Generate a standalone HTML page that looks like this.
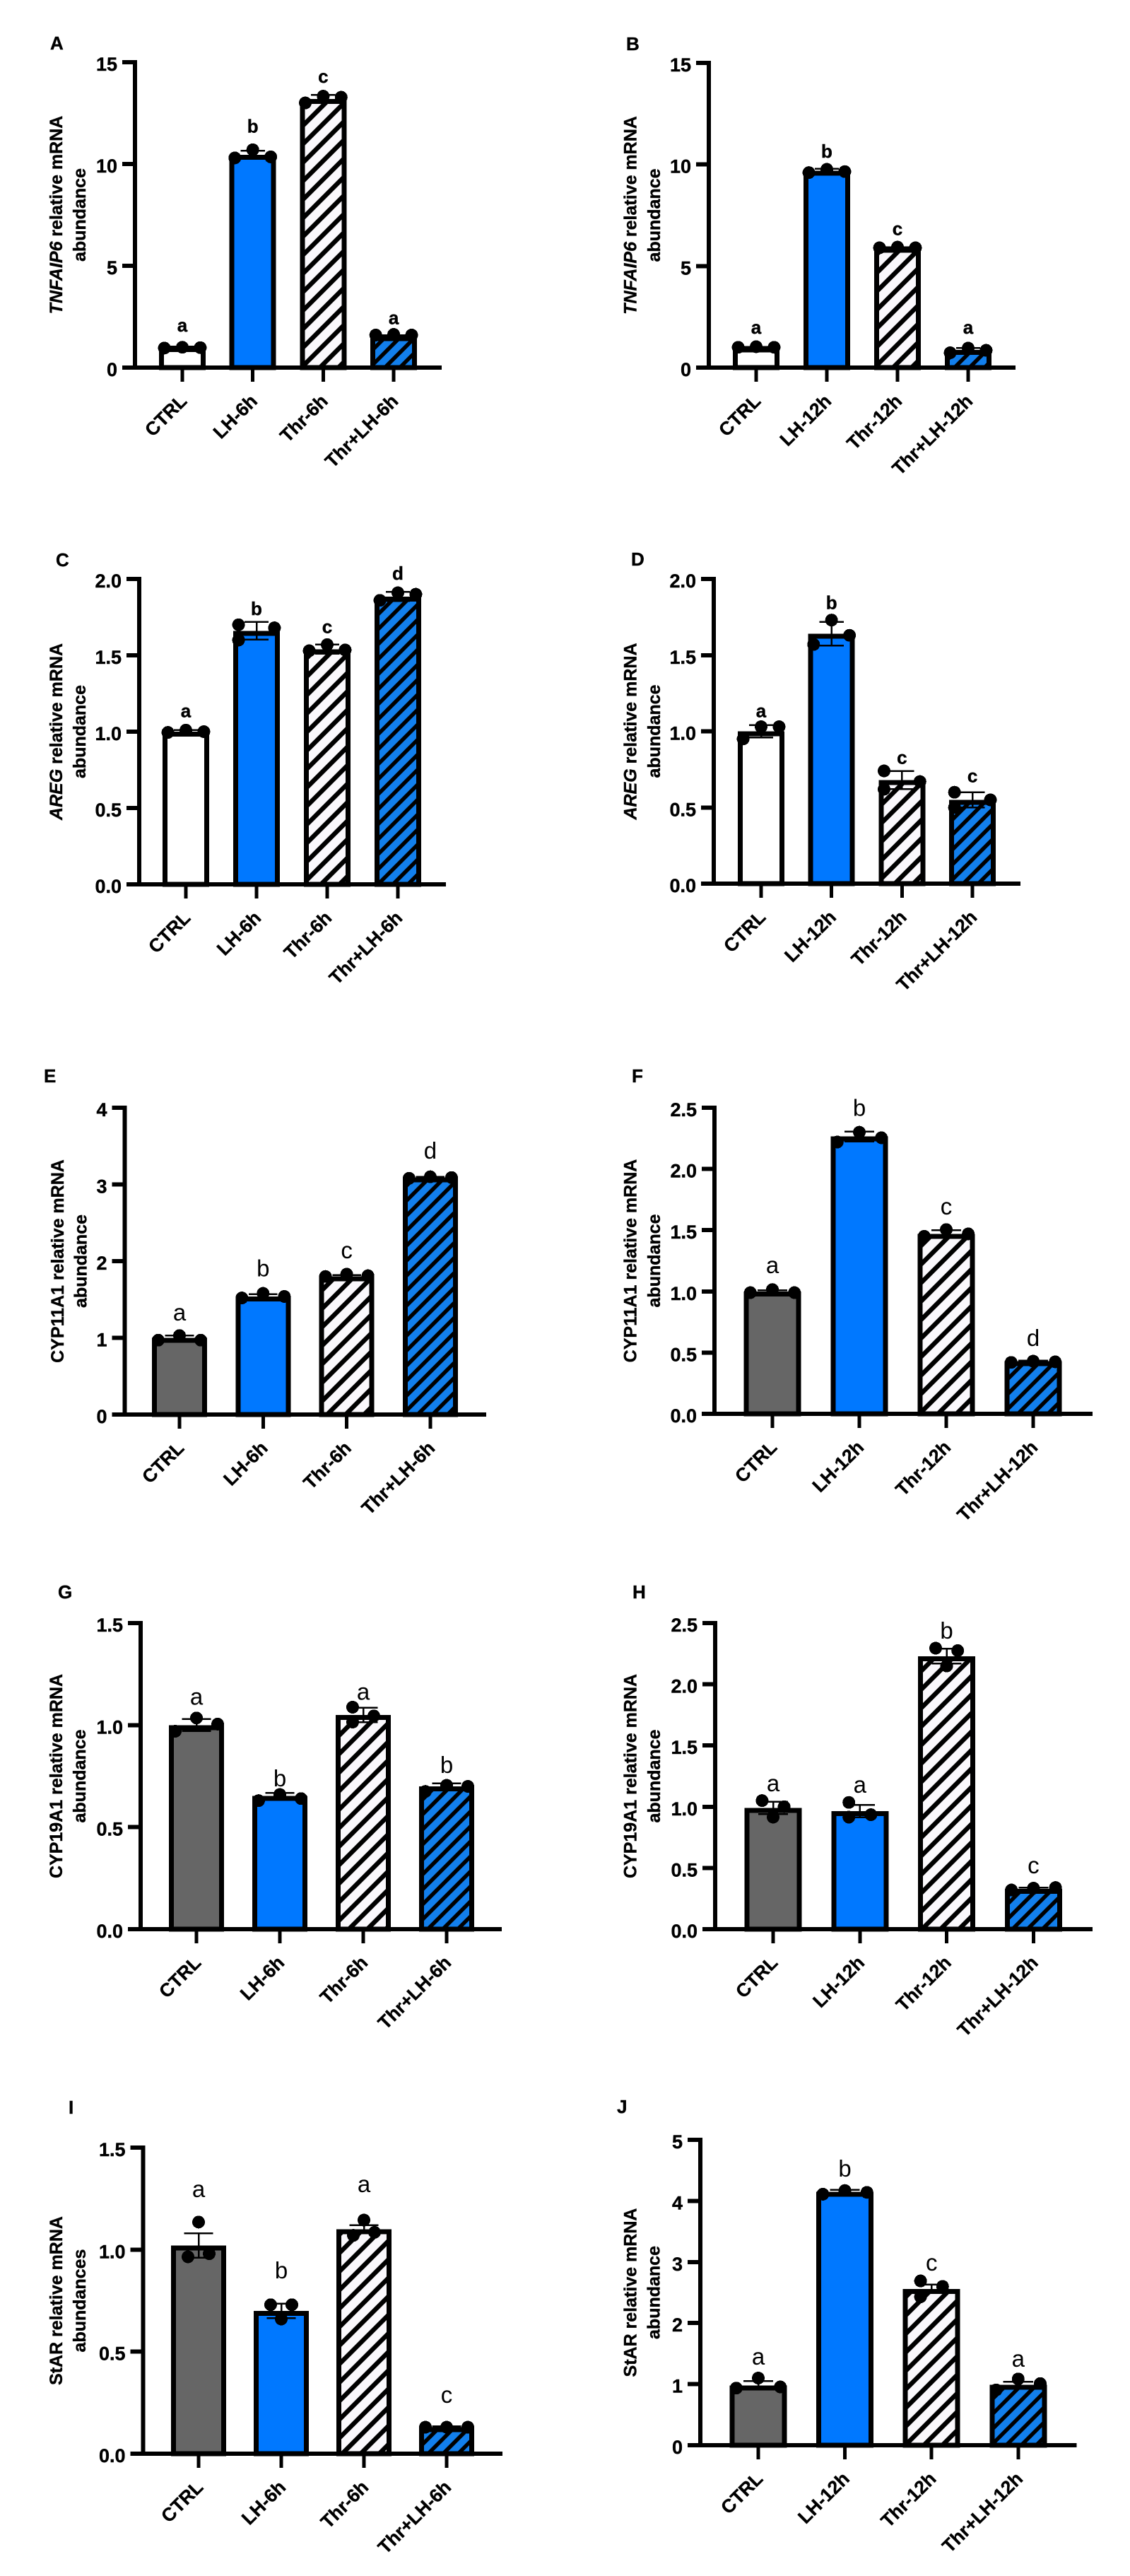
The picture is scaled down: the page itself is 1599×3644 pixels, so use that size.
<!DOCTYPE html>
<html lang="en">
<head>
<meta charset="utf-8">
<title>Relative mRNA abundance panels</title>
<style>
html,body{margin:0;padding:0;background:#fff;}
body{width:1599px;height:3644px;overflow:hidden;}
svg{display:block;}
text{font-family:"Liberation Sans",Arial,sans-serif;fill:#000;}
text.heavy{stroke:#000;stroke-width:0.4px;}
</style>
</head>
<body>
<svg id="figure" xmlns="http://www.w3.org/2000/svg" width="1599" height="3644" viewBox="0 0 1599 3644">
  <defs>
    <pattern id="hatch-white" patternUnits="userSpaceOnUse" width="18.5" height="18.5" patternTransform="rotate(45)">
      <rect width="18.5" height="18.5" fill="#faf8fc"></rect>
      <rect x="0" y="0" width="6.5" height="18.5" fill="#000"></rect>
    </pattern>
    <pattern id="hatch-blue" patternUnits="userSpaceOnUse" width="15" height="15" patternTransform="rotate(45)">
      <rect width="15" height="15" fill="#127fec"></rect>
      <rect x="0" y="0" width="5.5" height="15" fill="#000"></rect>
    </pattern>
  </defs>
</svg>
<script>
const categories6 = ['CTRL', 'LH-6h', 'Thr-6h', 'Thr+LH-6h'];
const categories12 = ['CTRL', 'LH-12h', 'Thr-12h', 'Thr+LH-12h'];

const ticksA = ['0', '5', '10', '15'];
const meansA = [1.0, 10.45, 13.2, 1.55];
const errsA = [0.03, 0.2, 0.2, 0.03];
const pointsA = [[0.96, 1.0, 0.98], [10.3, 10.7, 10.35], [13.0, 13.33, 13.28], [1.6, 1.63, 1.6]];
const slotsA = [[-1, 0, 1], [-1, 0, 1], [-1, 0, 1], [-1, 0, 1]];
const sigA = ['a', 'b', 'c', 'a'];
const sigLevelA = [1.77, 11.55, 14.0, 2.14];

const ticksB = ['0', '5', '10', '15'];
const meansB = [1.0, 9.7, 5.9, 0.87];
const errsB = [0.02, 0.08, 0.03, 0.1];
const pointsB = [[1.0, 1.03, 1.0], [9.6, 9.76, 9.65], [5.9, 5.93, 5.9], [0.73, 0.96, 0.85]];
const slotsB = [[-1, 0, 1], [-1, 0, 1], [-1, 0, 1], [-1, 0, 1]];
const sigB = ['a', 'b', 'c', 'a'];
const sigLevelB = [1.67, 10.34, 6.53, 1.67];

const ticksC = ['0.0', '0.5', '1.0', '1.5', '2.0'];
const meansC = [1.0, 1.66, 1.54, 1.885];
const errsC = [0.01, 0.058, 0.03, 0.03];
const pointsC = [[0.995, 1.01, 1.0], [1.7, 1.6, 1.68], [1.53, 1.57, 1.535], [1.86, 1.91, 1.9]];
const slotsC = [[-1, 0, 1], [-1, -1, 1], [-1, 0, 1], [-1, 0, 1]];
const sigC = ['a', 'b', 'c', 'd'];
const sigLevelC = [1.094, 1.764, 1.646, 1.995];

const ticksD = ['0.0', '0.5', '1.0', '1.5', '2.0'];
const meansD = [1.0, 1.64, 0.68, 0.55];
const errsD = [0.04, 0.077, 0.06, 0.05];
const pointsD = [[0.95, 1.03, 1.03], [1.57, 1.73, 1.63], [0.74, 0.62, 0.67], [0.6, 0.5, 0.55]];
const slotsD = [[-1, 0, 1], [-1, 0, 1], [-1, -1, 1], [-1, -1, 1]];
const sigD = ['a', 'b', 'c', 'c'];
const sigLevelD = [1.092, 1.803, 0.786, 0.665];

const ticksE = ['0', '1', '2', '3', '4'];
const meansE = [1.0, 1.54, 1.8, 3.09];
const errsE = [0.03, 0.03, 0.02, 0.01];
const pointsE = [[0.97, 1.03, 0.97], [1.52, 1.58, 1.54], [1.8, 1.83, 1.81], [3.08, 3.1, 3.09]];
const slotsE = [[-1, 0, 1], [-1, 0, 1], [-1, 0, 1], [-1, 0, 1]];
const sigE = ['a', 'b', 'c', 'd'];
const sigLevelE = [1.226, 1.8, 2.037, 3.338];

const ticksF = ['0.0', '0.5', '1.0', '1.5', '2.0', '2.5'];
const meansF = [1.0, 2.265, 1.47, 0.43];
const errsF = [0.01, 0.04, 0.03, 0.005];
const pointsF = [[0.99, 1.015, 0.99], [2.22, 2.3, 2.255], [1.45, 1.505, 1.47], [0.42, 0.43, 0.425]];
const slotsF = [[-1, 0, 1], [-1, 0, 1], [-1, 0, 1], [-1, 0, 1]];
const sigF = ['a', 'b', 'c', 'd'];
const sigLevelF = [1.149, 2.434, 1.628, 0.554];

const ticksG = ['0.0', '0.5', '1.0', '1.5'];
const meansG = [1.0, 0.653, 1.05, 0.7];
const errsG = [0.03, 0.015, 0.035, 0.015];
const pointsG = [[0.97, 1.035, 1.005], [0.63, 0.66, 0.64], [1.088, 1.015, 1.045], [0.675, 0.705, 0.7]];
const slotsG = [[-1, 0, 1], [-1, 0, 1], [-0.5, -0.5, 0.5], [-1, 0, 1]];
const sigG = ['a', 'b', 'a', 'b'];
const sigLevelG = [1.1, 0.7, 1.124, 0.765];

const ticksH = ['0.0', '0.5', '1.0', '1.5', '2.0', '2.5'];
const meansH = [0.99, 0.965, 2.23, 0.33];
const errsH = [0.05, 0.05, 0.06, 0.01];
const pointsH = [[1.05, 0.915, 1.0], [1.035, 0.915, 0.935], [2.295, 2.15, 2.275], [0.32, 0.335, 0.34]];
const slotsH = [[-0.5, 0, 0.5], [-0.5, -0.5, 0.5], [-0.5, 0, 0.5], [-1, 0, 1]];
const sigH = ['a', 'a', 'b', 'c'];
const sigLevelH = [1.126, 1.114, 2.373, 0.456];

const ticksI = ['0.0', '0.5', '1.0', '1.5'];
const meansI = [1.02, 0.7, 1.1, 0.13];
const errsI = [0.06, 0.035, 0.02, 0.005];
const pointsI = [[1.135, 0.965, 0.98], [0.73, 0.66, 0.73], [1.07, 1.145, 1.085], [0.13, 0.13, 0.13]];
const slotsI = [[0, -0.5, 0.5], [-0.5, 0, 0.5], [-0.5, 0, 0.5], [-1, 0, 1]];
const sigI = ['a', 'b', 'a', 'c'];
const sigLevelI = [1.257, 0.859, 1.282, 0.249];

const ticksJ = ['0', '1', '2', '3', '4', '5'];
const meansJ = [0.98, 4.15, 2.56, 0.99];
const errsJ = [0.07, 0.03, 0.07, 0.05];
const pointsJ = [[0.935, 1.1, 0.955], [4.11, 4.17, 4.14], [2.69, 2.43, 2.6], [0.905, 1.085, 1.01]];
const slotsJ = [[-1, 0, 1], [-1, 0, 1], [-0.5, -0.5, 0.5], [-1, 0, 1]];
const sigJ = ['a', 'b', 'c', 'a'];
const sigLevelJ = [1.319, 4.398, 2.859, 1.285];

const SVG_NS = 'http://www.w3.org/2000/svg';
const figure = document.getElementById('figure');
const BLUE = '#0078ff';
const GRAY = '#666666';

function make(parent, tag, props) {
  const el = document.createElementNS(SVG_NS, tag);
  for (const key in props) el.setAttribute(key, props[key]);
  parent.appendChild(el);
  return el;
}

function drawPanel(p) {
  const group = make(figure, 'g', {});
  
  

  const yMax = parseFloat(p.ticks[p.ticks.length - 1]);
  const yScale = function (v) { return p.y0 - (v / yMax) * (p.y0 - p.yTop); };
  const xScale = function (i) { return p.x0 + i * p.dx; };

  const letter = make(group, 'text', { class: 'heavy', x: p.letterX, y: p.letterY, 'font-size': 26, 'font-weight': 'bold' });
  letter.textContent = p.id;
  
  

  const yAxis = make(group, 'rect', { x: p.axisX - 3, y: p.yTop - 3, width: 6, height: p.y0 - p.yTop + 6, fill: '#000', 'shape-rendering': 'crispEdges' });
  
  

  const xAxis = make(group, 'rect', { x: p.axisX - 18, y: p.y0 - 3, width: p.xEnd - p.axisX + 18, height: 6, fill: '#000', 'shape-rendering': 'crispEdges' });
  
  

  p.ticks.forEach(function (label) {
    const v = parseFloat(label);
    const tick = make(group, 'rect', { x: p.axisX - 18, y: yScale(v) - 3, width: 18, height: 6, fill: '#000', 'shape-rendering': 'crispEdges' });
    
    
    const text = make(group, 'text', { class: 'heavy', x: p.axisX - 25, y: yScale(v) + 12, 'font-size': 27, 'font-weight': 'bold', 'text-anchor': 'end' });
    text.textContent = label;
    
    
  });

  const midY = (p.y0 + p.yTop) / 2;
  const title1 = make(group, 'text', { class: 'heavy', transform: 'translate(' + p.title1X + ' ' + midY + ') rotate(-90)', 'font-size': 25, 'font-weight': 'bold', 'text-anchor': 'middle' });
  if (p.geneItalic) {
    const gene = make(title1, 'tspan', { 'font-style': 'italic' });
    gene.textContent = p.gene;
    
    
  } else {
    const gene = make(title1, 'tspan', {});
    gene.textContent = p.gene;
    
    
  }
  const rest = make(title1, 'tspan', {});
  rest.textContent = ' relative mRNA';
  
  
  
  

  const title2 = make(group, 'text', { class: 'heavy', transform: 'translate(' + p.title2X + ' ' + midY + ') rotate(-90)', 'font-size': 25, 'font-weight': 'bold', 'text-anchor': 'middle' });
  title2.textContent = p.unit;
  
  

  const fills = [p.ctrlFill, BLUE, 'url(#hatch-white)', 'url(#hatch-blue)'];
  const sw = 7;

  p.categories.forEach(function (cat, i) {
    const cx = xScale(i);
    const top = yScale(p.means[i]);

    const tick = make(group, 'rect', { x: cx - 2.5, y: p.y0, width: 5, height: 20, fill: '#000', 'shape-rendering': 'crispEdges' });
    
    

    const label = make(group, 'text', { class: 'heavy', transform: 'translate(' + (cx + 8) + ' ' + (p.y0 + 49) + ') rotate(-45)', 'font-size': 26.5, 'font-weight': 'bold', 'text-anchor': 'end' });
    label.textContent = cat;
    
    

    const bar = make(group, 'rect', { x: cx - p.barW / 2 + sw / 2, y: top + sw / 2, width: p.barW - sw, height: p.y0 - top - sw / 2, fill: fills[i], stroke: '#000', 'stroke-width': sw, 'shape-rendering': 'crispEdges' });
    
    

    const capW = p.barW * 0.26;
    const hi = yScale(p.means[i] + p.errs[i]);
    const lo = yScale(p.means[i] - p.errs[i]);
    const stem = make(group, 'line', { x1: cx, x2: cx, y1: hi, y2: lo, stroke: '#000', 'stroke-width': 2.5, 'shape-rendering': 'crispEdges' });
    
    
    const capHi = make(group, 'line', { x1: cx - capW, x2: cx + capW, y1: hi, y2: hi, stroke: '#000', 'stroke-width': 2.5, 'shape-rendering': 'crispEdges' });
    
    
    const capLo = make(group, 'line', { x1: cx - capW, x2: cx + capW, y1: lo, y2: lo, stroke: '#000', 'stroke-width': 2.5, 'shape-rendering': 'crispEdges' });
    
    

    p.points[i].forEach(function (v, j) {
      const dot = make(group, 'circle', { cx: cx + p.slots[i][j] * p.barW * 0.385, cy: yScale(v), r: 9, fill: '#000', 'shape-rendering': 'crispEdges' });
      
      
    });

    const sig = make(group, 'text', { class: p.sigBold ? 'heavy' : '', x: cx, y: yScale(p.sigLevels[i]), 'text-anchor': 'middle', 'font-size': p.sigBold ? 26 : 33, 'font-weight': p.sigBold ? 'bold' : 'normal' });
    sig.textContent = p.sig[i];
    
    
  });
}

drawPanel({ id: 'A', letterX: 71, letterY: 70, axisX: 191, y0: 520, yTop: 88, xEnd: 625, x0: 258, dx: 99.7, barW: 66, title1X: 88, title2X: 121, gene: 'TNFAIP6', geneItalic: true, unit: 'abundance', ctrlFill: '#fff', sigBold: true, ticks: ticksA, categories: categories6, means: meansA, errs: errsA, points: pointsA, slots: slotsA, sig: sigA, sigLevels: sigLevelA });
drawPanel({ id: 'B', letterX: 886, letterY: 71, axisX: 1003, y0: 520, yTop: 89, xEnd: 1437, x0: 1070, dx: 100, barW: 66, title1X: 900.5, title2X: 934, gene: 'TNFAIP6', geneItalic: true, unit: 'abundance', ctrlFill: '#fff', sigBold: true, ticks: ticksB, categories: categories12, means: meansB, errs: errsB, points: pointsB, slots: slotsB, sig: sigB, sigLevels: sigLevelB });
drawPanel({ id: 'C', letterX: 79, letterY: 801, axisX: 197, y0: 1251, yTop: 819, xEnd: 631, x0: 263, dx: 100, barW: 66, title1X: 88, title2X: 121, gene: 'AREG', geneItalic: true, unit: 'abundance', ctrlFill: '#fff', sigBold: true, ticks: ticksC, categories: categories6, means: meansC, errs: errsC, points: pointsC, slots: slotsC, sig: sigC, sigLevels: sigLevelC });
drawPanel({ id: 'D', letterX: 893, letterY: 800, axisX: 1010, y0: 1250, yTop: 819, xEnd: 1444, x0: 1077, dx: 99.7, barW: 66, title1X: 900.5, title2X: 934, gene: 'AREG', geneItalic: true, unit: 'abundance', ctrlFill: '#fff', sigBold: true, ticks: ticksD, categories: categories12, means: meansD, errs: errsD, points: pointsD, slots: slotsD, sig: sigD, sigLevels: sigLevelD });
drawPanel({ id: 'E', letterX: 62, letterY: 1531, axisX: 176.5, y0: 2001, yTop: 1567, xEnd: 688, x0: 254, dx: 118.3, barW: 78, title1X: 90, title2X: 122.5, gene: 'CYP11A1', geneItalic: false, unit: 'abundance', ctrlFill: GRAY, sigBold: false, ticks: ticksE, categories: categories6, means: meansE, errs: errsE, points: pointsE, slots: slotsE, sig: sigE, sigLevels: sigLevelE });
drawPanel({ id: 'F', letterX: 894, letterY: 1531, axisX: 1011, y0: 2000, yTop: 1567, xEnd: 1546, x0: 1093, dx: 123, barW: 81, title1X: 900.5, title2X: 934, gene: 'CYP11A1', geneItalic: false, unit: 'abundance', ctrlFill: GRAY, sigBold: false, ticks: ticksF, categories: categories12, means: meansF, errs: errsF, points: pointsF, slots: slotsF, sig: sigF, sigLevels: sigLevelF });
drawPanel({ id: 'G', letterX: 82, letterY: 2261, axisX: 199, y0: 2729, yTop: 2296, xEnd: 710, x0: 278, dx: 118, barW: 78, title1X: 88, title2X: 121, gene: 'CYP19A1', geneItalic: false, unit: 'abundance', ctrlFill: GRAY, sigBold: false, ticks: ticksG, categories: categories6, means: meansG, errs: errsG, points: pointsG, slots: slotsG, sig: sigG, sigLevels: sigLevelG });
drawPanel({ id: 'H', letterX: 895, letterY: 2261, axisX: 1012, y0: 2729, yTop: 2296, xEnd: 1546, x0: 1094, dx: 122.8, barW: 81, title1X: 900.5, title2X: 934, gene: 'CYP19A1', geneItalic: false, unit: 'abundance', ctrlFill: GRAY, sigBold: false, ticks: ticksH, categories: categories12, means: meansH, errs: errsH, points: pointsH, slots: slotsH, sig: sigH, sigLevels: sigLevelH });
drawPanel({ id: 'I', letterX: 97, letterY: 2990, axisX: 202.5, y0: 3471, yTop: 3038, xEnd: 711, x0: 281, dx: 117, barW: 78, title1X: 88, title2X: 121, gene: 'StAR', geneItalic: false, unit: 'abundances', ctrlFill: GRAY, sigBold: false, ticks: ticksI, categories: categories6, means: meansI, errs: errsI, points: pointsI, slots: slotsI, sig: sigI, sigLevels: sigLevelI });
drawPanel({ id: 'J', letterX: 873, letterY: 2989, axisX: 991, y0: 3459, yTop: 3027, xEnd: 1523.5, x0: 1073, dx: 122.6, barW: 81, title1X: 900.5, title2X: 933.6, gene: 'StAR', geneItalic: false, unit: 'abundance', ctrlFill: GRAY, sigBold: false, ticks: ticksJ, categories: categories12, means: meansJ, errs: errsJ, points: pointsJ, slots: slotsJ, sig: sigJ, sigLevels: sigLevelJ });
</script>
</body>
</html>
